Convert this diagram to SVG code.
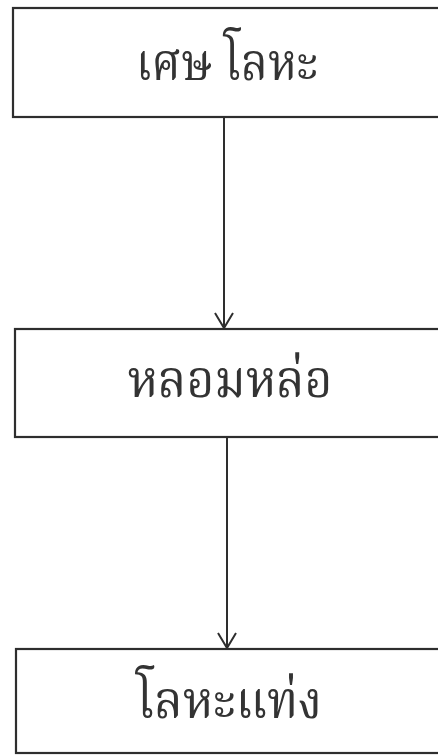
<svg xmlns="http://www.w3.org/2000/svg" width="438" height="755" viewBox="0 0 438 755">
<style>
.box{fill:#fff;stroke:#2e2e2e;stroke-width:2.2}
.lbl{font-family:"Noto Serif Thai","Noto Sans Thai","Liberation Serif",serif;font-size:52px;fill:#333;text-anchor:middle}
.conn{stroke:#2e2e2e;stroke-width:2;fill:none}
</style>
<rect width="438" height="755" fill="#fff"/>
<g id="n1"><rect class="box" x="13" y="8" width="440" height="109"/><text class="lbl" x="227" y="80" textLength="182" lengthAdjust="spacingAndGlyphs">เศษ โลหะ</text></g>
<g id="n2"><rect class="box" x="15" y="329" width="440" height="108"/><text class="lbl" x="230" y="397" textLength="205" lengthAdjust="spacingAndGlyphs">หลอมหล่อ</text></g>
<g id="n3"><rect class="box" x="16" y="649" width="440" height="104"/><text class="lbl" x="229" y="718" textLength="186" lengthAdjust="spacingAndGlyphs">โลหะแท่ง</text></g>
<g id="connectors">
<path class="conn" d="M224 117 V328 M215 313 L224 328 L233 313"/>
<path class="conn" d="M227 437 V648 M218 633 L227 648 L236 633"/>
</g>
</svg>
